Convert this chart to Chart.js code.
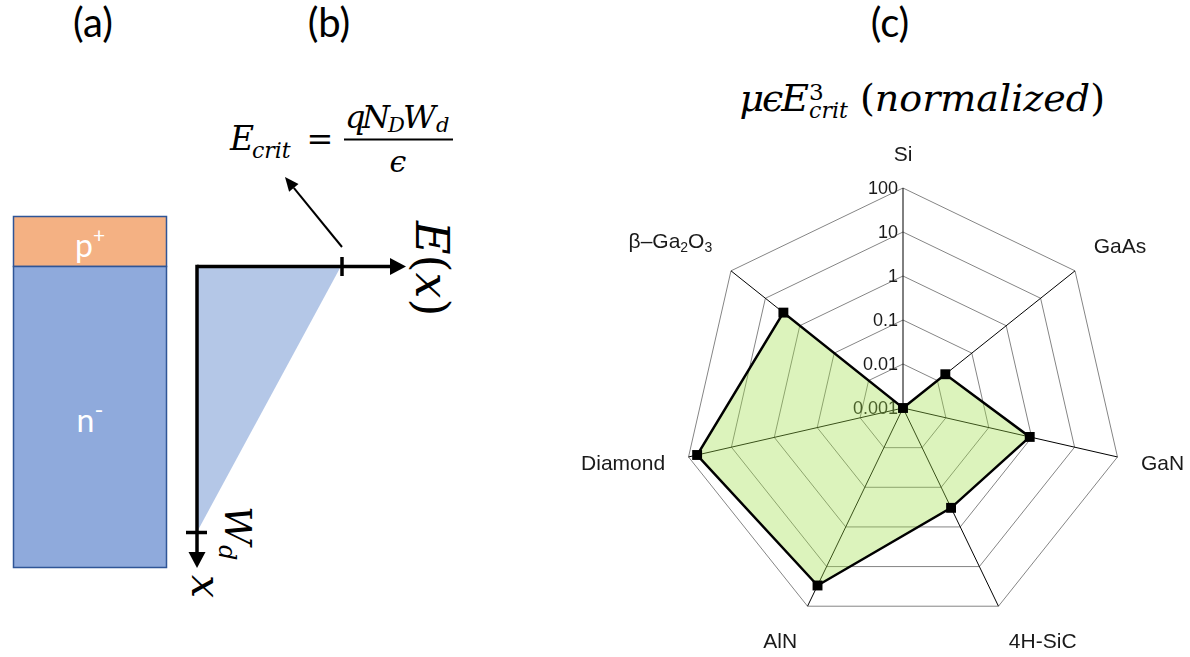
<!DOCTYPE html>
<html>
<head>
<meta charset="utf-8">
<script src="https://cdn.jsdelivr.net/npm/chart.js@4.4.1/dist/chart.umd.min.js"></script>
<style>
  html, body { margin: 0; padding: 0; background: #fff; }
  body { width: 1190px; height: 657px; position: relative; overflow: hidden; }
  #fig { position: absolute; left: 0; top: 0; }
  #radar { position: absolute; left: 553px; top: 128px; }
  #ttl {
    position: absolute; right: 85px; top: 79px;
    font-family: 'DejaVu Serif', serif; font-style: italic; font-size: 38px;
    line-height: 38px; white-space: nowrap; color: #000;
  }
  #ttl .sym { letter-spacing: -2px; }
  #ttl .up { font-style: normal; }
  #ttl .sb { position: relative; top: 0.32em; font-size: 0.58em; margin-left: 2px; }
  #ttl .sp { position: absolute; left: 0; top: -1.1em; font-style: normal; font-size: 1.05em; }
</style>
</head>
<body>
<!-- panels (a) and (b): schematic drawings -->
<svg id="fig" width="1190" height="657" viewBox="0 0 1190 657">
  <g font-family="Lato, 'Open Sans', sans-serif" font-size="40" text-anchor="middle" fill="#000">
    <text x="93" y="37">(a)</text>
    <text x="329" y="37">(b)</text>
    <text x="890" y="37">(c)</text>
  </g>

  <!-- (a) p+/n- stack -->
  <rect x="13.5" y="216.5" width="153" height="50" fill="#f4b183" stroke="#2f5597" stroke-width="1.5"/>
  <rect x="13.5" y="266.5" width="153" height="301" fill="#8faadc" stroke="#2f5597" stroke-width="1.5"/>
  <g font-family="Lato, 'Open Sans', sans-serif" fill="#fff" text-anchor="middle">
    <text x="90" y="257" font-size="32">p<tspan font-size="21" dy="-14">+</tspan></text>
    <text x="90" y="432" font-size="32">n<tspan font-size="24" dy="-14">-</tspan></text>
  </g>

  <!-- (b) field profile -->
  <polygon points="197,268 340,268 197,532" fill="#b4c7e7"/>
  <g stroke="#000" stroke-width="3.5" fill="none">
    <line x1="197" y1="266.5" x2="392" y2="266.5"/>
    <line x1="197" y1="264.8" x2="197" y2="554"/>
    <line x1="342" y1="257" x2="342" y2="276"/>
    <line x1="186" y1="532.5" x2="207" y2="532.5"/>
  </g>
  <polygon points="390,258 406,266.5 390,275" fill="#000"/>
  <polygon points="188.5,552 197,568 205.5,552" fill="#000"/>
  <line x1="342" y1="247" x2="293.8" y2="187.9" stroke="#000" stroke-width="2"/>
  <polygon points="285,177 298.5,184.1 289.1,191.7" fill="#000"/>

  <g font-family="'DejaVu Serif', serif" fill="#000">
    <text x="230" y="150" font-size="33" font-style="italic">E</text>
    <text x="252" y="158" font-size="22" font-style="italic">crit</text>
    <text x="320" y="150" font-size="32" text-anchor="middle">=</text>
    <text x="345" y="128" font-size="32" font-style="italic">q</text>
    <text x="362" y="128" font-size="32" font-style="italic">N</text>
    <text x="388" y="132" font-size="21" font-style="italic">D</text>
    <text x="403" y="128" font-size="32" font-style="italic">W</text>
    <text x="436" y="132" font-size="21" font-style="italic">d</text>
    <line x1="344" y1="139.5" x2="453" y2="139.5" stroke="#000" stroke-width="2"/>
    <text x="398" y="172" font-size="30" font-style="italic" text-anchor="middle">ϵ</text>

    <text transform="translate(416,221) rotate(90)" font-size="46"><tspan font-style="italic">E</tspan>(<tspan font-style="italic">x</tspan>)</text>
    <text transform="translate(225,506) rotate(90)" font-size="38" font-style="italic">W<tspan font-size="24" dy="6">d</tspan></text>
    <text transform="translate(192,575) rotate(90)" font-size="41" font-style="italic">x</text>
  </g>
</svg>

<div id="ttl"><span class="sym">μϵE</span><span class="sb">crit<span class="sp">3</span></span> <span class="up">(</span>normalized<span class="up">)</span></div>

<canvas id="radar" width="670" height="560"></canvas>

<script>
// categories and values (log scale)
const categories = ['Si', 'GaAs', 'GaN', '4H-SiC', 'AlN', 'Diamond', 'β–Ga₂O₃'];
const figureOfMerit = [0.001, 0.017, 0.9, 0.33, 30, 63, 3];
const tickValues = [0.001, 0.01, 0.1, 1, 10, 100];
const tickLabels = ['0.001', '0.01', '0.1', '1', '10', '100'];

const SUB_DIGITS = '₀₁₂₃₄₅₆₇₈₉';
const labelFont = (size) => size + 'px "Liberation Sans", Arial, sans-serif';

// draw a label with subscript digits as smaller, lowered text
function drawRichLabel(ctx, text, x, baseY, align) {
  const runs = [];
  for (const ch of text) {
    const k = SUB_DIGITS.indexOf(ch);
    const sub = k >= 0;
    const c = sub ? String(k) : ch;
    const last = runs[runs.length - 1];
    if (last && last.sub === sub) last.t += c;
    else runs.push({ t: c, sub: sub });
  }
  let total = 0;
  runs.forEach(r => {
    ctx.font = labelFont(r.sub ? 14 : 21);
    r.w = ctx.measureText(r.t).width;
    total += r.w;
  });
  let x0 = align === 'left' ? x : align === 'right' ? x - total : x - total / 2;
  ctx.textAlign = 'left';
  ctx.textBaseline = 'alphabetic';
  runs.forEach(r => {
    ctx.font = labelFont(r.sub ? 14 : 21);
    ctx.fillText(r.t, x0, baseY + (r.sub ? 4 : 0));
    x0 += r.w;
  });
}

// log tick labels, drawn under the filled area
const logTickPlugin = {
  id: 'logTicks',
  beforeDatasetsDraw(chart) {
    const s = chart.scales.r;
    const ctx = chart.ctx;
    ctx.save();
    ctx.font = labelFont(18);
    ctx.fillStyle = '#1a1a1a';
    ctx.textAlign = 'right';
    ctx.textBaseline = 'middle';
    tickValues.forEach((v, i) => {
      const d = s.getDistanceFromCenterForValue(Math.log10(v));
      ctx.fillText(tickLabels[i], s.xCenter - 5, s.yCenter - d + 1);
    });
    ctx.restore();
  }
};

// category labels around the web
const pointLabelPlugin = {
  id: 'richPointLabels',
  afterDraw(chart) {
    const s = chart.scales.r;
    const ctx = chart.ctx;
    ctx.save();
    ctx.fillStyle = '#1a1a1a';
    categories.forEach((lab, i) => {
      const p = s.getPointPosition(i, s.drawingArea + 24);
      const dx = p.x - s.xCenter, dy = p.y - s.yCenter;
      const d = Math.hypot(dx, dy);
      const align = Math.abs(dx) < 1 ? 'center' : (dx > 0 ? 'left' : 'right');
      let baseY;
      if (dy < -0.3 * d) baseY = p.y - 3;
      else if (dy > 0.5 * d) baseY = p.y + 20;
      else baseY = p.y + 8;
      if (/[₀-₉]/.test(lab)) baseY -= 5;
      drawRichLabel(ctx, lab, p.x, baseY, align);
    });
    ctx.restore();
  }
};

const ctx = document.getElementById('radar').getContext('2d');
new Chart(ctx, {
  type: 'radar',
  data: {
    labels: categories,
    datasets: [{
      data: figureOfMerit.map(v => Math.log10(v)),
      borderColor: '#000',
      borderWidth: 2.5,
      backgroundColor: 'rgba(157, 223, 70, 0.36)',
      fill: 'start',
      pointStyle: 'rect',
      pointRadius: 7,
      pointBorderWidth: 0,
      pointBackgroundColor: '#000',
      pointBorderColor: '#000'
    }]
  },
  options: {
    responsive: false,
    animation: false,
    devicePixelRatio: 1,
    layout: { padding: { left: 130, right: 100, top: 60, bottom: 60 } },
    plugins: {
      legend: { display: false },
      tooltip: { enabled: false }
    },
    scales: {
      r: {
        min: -3,
        max: 2,
        ticks: { stepSize: 1, display: false },
        pointLabels: { display: false },
        grid: { color: '#858585', lineWidth: 1 },
        angleLines: { color: '#000', lineWidth: 1 }
      }
    }
  },
  plugins: [logTickPlugin, pointLabelPlugin]
});
</script>
</body>
</html>
